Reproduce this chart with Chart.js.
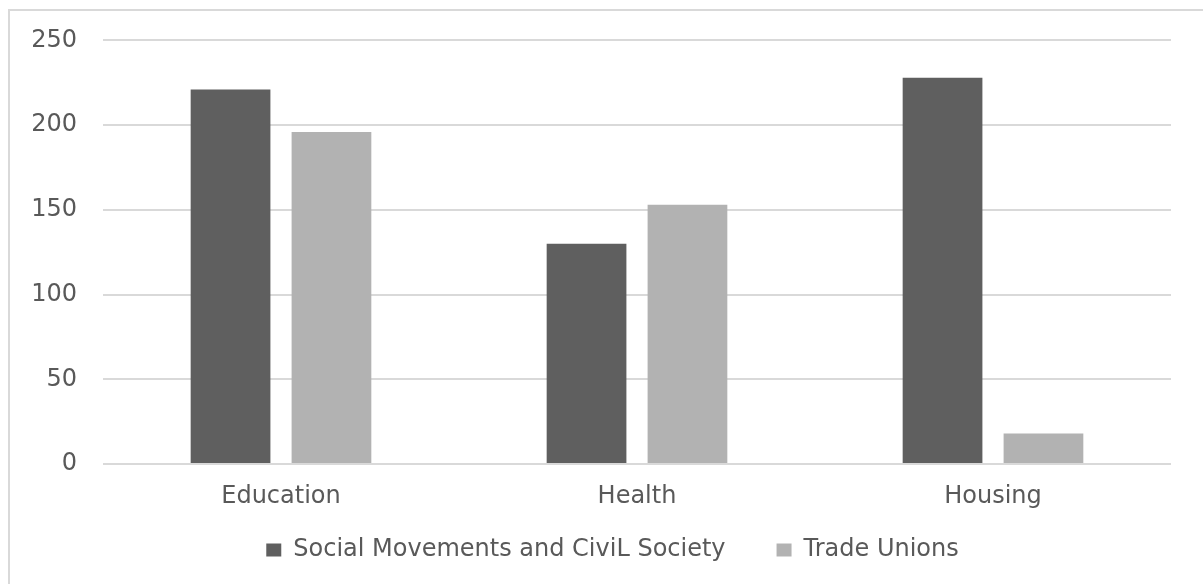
<!DOCTYPE html>
<html>
<head>
<meta charset="utf-8">
<script src="https://cdn.jsdelivr.net/npm/chart.js@4"></script>
<style>
  html, body { margin: 0; padding: 0; background: #fff; overflow: hidden; }
  #frame {
    position: absolute; left: 8px; top: 9px;
    width: 1400px; height: 800px;
    border: 2px solid #d9d9d9;
  }
  #wrap { position: absolute; left: 0; top: 0; width: 1203px; height: 584px; }
</style>
</head>
<body>
<div id="frame"></div>
<div id="wrap"><canvas id="statsChart"></canvas></div>
<script>
// categories and counts per sector
const categories = ['Education', 'Health', 'Housing'];
const socialMovements = [221, 130, 228];
const tradeUnions = [196, 153, 18];
const seriesNames = ['Social Movements and CiviL Society', 'Trade Unions'];

const textColor = '#595959';
const gridColor = '#d9d9d9';
Chart.defaults.font.family = "'DejaVu Sans', sans-serif";
Chart.defaults.color = textColor;

// move the legend a bit: up closer to the axis labels, and right
const legendNudge = {
  id: 'legendNudge',
  afterLayout(chart) {
    const lg = chart.legend;
    const dx = 27, dy = -24;
    lg.left += dx; lg.right += dx;
    lg.top += dy; lg.bottom += dy;
  }
};

const ctx = document.getElementById('statsChart').getContext('2d');
const statsChart = new Chart(ctx, {
  type: 'bar',
  data: {
    labels: categories,
    datasets: [
      {
        label: seriesNames[0],
        data: socialMovements,
        backgroundColor: '#5f5f5f',
        categoryPercentage: 0.567,
        barPercentage: 0.79
      },
      {
        label: seriesNames[1],
        data: tradeUnions,
        backgroundColor: '#b2b2b2',
        categoryPercentage: 0.567,
        barPercentage: 0.79
      }
    ]
  },
  options: {
    responsive: true,
    maintainAspectRatio: false,
    animation: false,
    layout: { padding: { top: 30, right: 32, left: 0, bottom: -12 } },
    plugins: {
      tooltip: { enabled: false },
      legend: {
        position: 'bottom',
        labels: {
          boxWidth: 15,
          boxHeight: 13,
          padding: 51,
          font: { size: 24 },
          color: textColor
        }
      }
    },
    scales: {
      x: {
        grid: { display: false },
        border: { display: false },
        ticks: { font: { size: 24 }, padding: 10, color: textColor },
        afterFit: (scale) => { scale.height = 47; }
      },
      y: {
        min: 0,
        max: 250,
        ticks: { stepSize: 50, font: { size: 24 }, padding: 26, color: textColor },
        grid: { color: gridColor, lineWidth: 2, drawTicks: false },
        border: { display: false },
        afterFit: (scale) => { scale.width = 103; }
      }
    }
  },
  plugins: [legendNudge]
});
</script>
</body>
</html>
